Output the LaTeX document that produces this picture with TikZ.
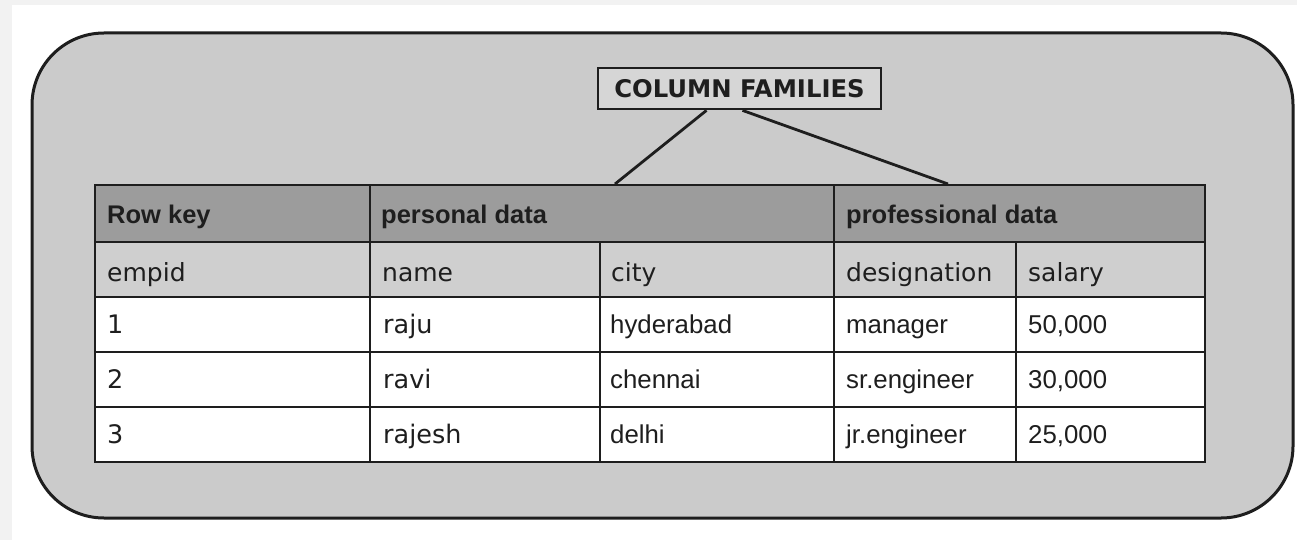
\documentclass[tikz,border=0pt]{standalone}
\usepackage{fontspec}
\setmainfont{DejaVu Sans}
\newfontfamily\arialf{Liberation Sans}
\definecolor{pagegrey}{HTML}{F2F2F2}
\definecolor{panelgrey}{HTML}{CBCBCB}
\definecolor{hdrgrey}{HTML}{9C9C9C}
\definecolor{subgrey}{HTML}{CFCFCF}
\definecolor{cfgrey}{HTML}{D6D6D6}
\definecolor{ink}{HTML}{1E1E1E}
\begin{document}
\begin{tikzpicture}[x=1pt,y=-1pt,
  outerbox/.style={draw=ink,line width=3pt,fill=panelgrey,rounded corners=72pt},
  gridline/.style={draw=ink,line width=2.4pt},
  connector/.style={draw=ink,line width=2.8pt},
  cfbox/.style={draw=ink,line width=2.8pt,fill=cfgrey,minimum width=283pt,minimum height=41pt,inner sep=0pt,font=\bfseries\fontsize{24.3}{28}\selectfont,text=ink},
  hdrtxt/.style={anchor=base west,inner sep=0pt,text=ink,font=\arialf\bfseries\fontsize{25.5}{30}\selectfont},
  subtxt/.style={anchor=base west,inner sep=0pt,text=ink,font=\fontsize{25}{30}\selectfont},
  tahtxt/.style={anchor=base west,inner sep=0pt,text=ink,font=\fontsize{25.5}{30}\selectfont},
  artxt/.style={anchor=base west,inner sep=0pt,text=ink,font=\arialf\fontsize{25.8}{30}\selectfont}]
\fill[pagegrey] (0,0) rectangle (1297,540);
\fill[white] (12,5) rectangle (1297,540);
\useasboundingbox (0,0) rectangle (1297,540);
% panel
\path[outerbox] (32,33) rectangle (1293,518);
% table fills
\fill[hdrgrey] (95,185) rectangle (1205,242);
\fill[subgrey] (95,242) rectangle (1205,297);
\fill[white] (95,297) rectangle (1205,462);
% grid
\draw[gridline] (95,185) rectangle (1205,462);
\foreach \yy in {242,297,352,407} \draw[gridline] (95,\yy) -- (1205,\yy);
\draw[gridline] (370,185) -- (370,462);
\draw[gridline] (834,185) -- (834,462);
\draw[gridline] (600,242) -- (600,462);
\draw[gridline] (1016,242) -- (1016,462);
% column families
\node[cfbox] (cf) at (739.5,88.5) {COLUMN FAMILIES};
\coordinate (pdtop) at (615,184);
\coordinate (prtop) at (948,184);
\draw[connector] ([xshift=-33pt]cf.south) -- (pdtop);
\draw[connector] ([xshift=3pt]cf.south) -- (prtop);
% header texts
\node[hdrtxt] (h1) at (107,223) {Row key};
\node[hdrtxt] (h2) at (381,223) {personal data};
\node[hdrtxt] (h3) at (846,223) {professional data};
% sub header
\node[subtxt] (s1) at (107,281) {empid};
\node[subtxt] (s2) at (382,281) {name};
\node[subtxt] (s3) at (611,281) {city};
\node[subtxt] (s4) at (846,281) {designation};
\node[subtxt] (s5) at (1028,281) {salary};
% rows
\node[tahtxt] (r1a) at (107,333) {1};
\node[tahtxt] (r1b) at (383,333) {raju};
\node[artxt] (r1c) at (610,333) {hyderabad};
\node[artxt] (r1d) at (846,333) {manager};
\node[artxt] (r1e) at (1028,333) {50,000};
\node[tahtxt] (r2a) at (107,388) {2};
\node[tahtxt] (r2b) at (383,388) {ravi};
\node[artxt] (r2c) at (610,388) {chennai};
\node[artxt] (r2d) at (846,388) {sr.engineer};
\node[artxt] (r2e) at (1028,388) {30,000};
\node[tahtxt] (r3a) at (107,443) {3};
\node[tahtxt] (r3b) at (383,443) {rajesh};
\node[artxt] (r3c) at (610,443) {delhi};
\node[artxt] (r3d) at (846,443) {jr.engineer};
\node[artxt] (r3e) at (1028,443) {25,000};
\end{tikzpicture}
\end{document}
